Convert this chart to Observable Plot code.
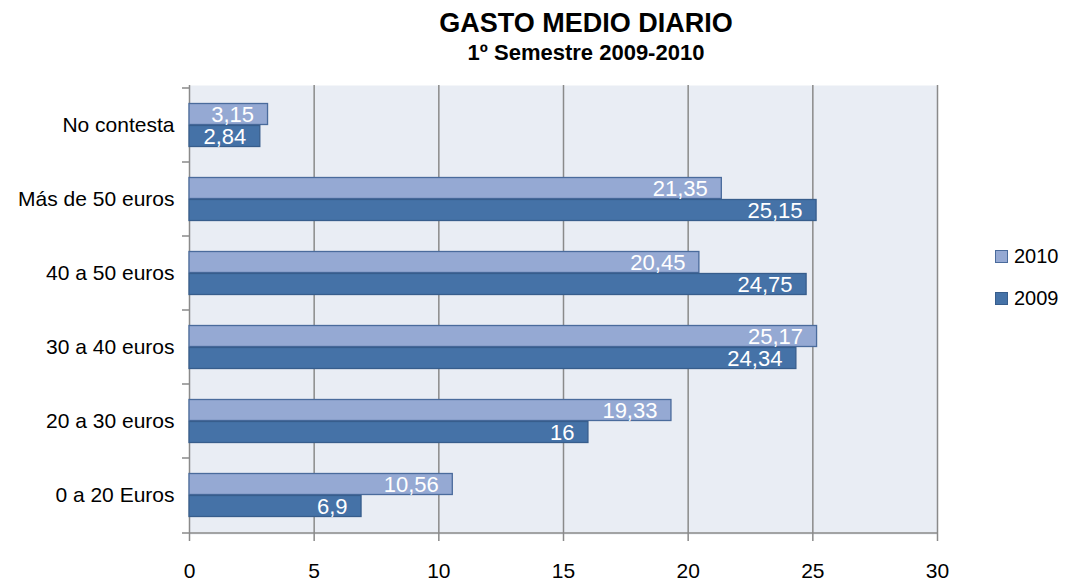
<!DOCTYPE html>
<html>
<head>
<meta charset="utf-8">
<script src="https://cdn.jsdelivr.net/npm/d3@7"></script>
<script src="https://cdn.jsdelivr.net/npm/@observablehq/plot@0.6"></script>
<style>
  html, body { margin: 0; padding: 0; background: #fff; }
  #wrap { position: relative; width: 1066px; height: 585px; font-family: "Liberation Sans", Arial, sans-serif; overflow: hidden; }
  #title { position: absolute; left: 0; width: 1172px; top: 8px; text-align: center; font-weight: bold; font-size: 27px; line-height: 30px; color: #000; }
  #subtitle { position: absolute; left: 0; width: 1172px; top: 41px; text-align: center; font-weight: bold; font-size: 22px; line-height: 24px; color: #000; }
  #chart { position: absolute; left: 0; top: 70px; }
  #legend { position: absolute; left: 995px; top: 235px; font-size: 20px; color: #000; }
  .item { display: flex; align-items: center; height: 42px; }
  .sw { width: 11px; height: 11px; border: 1.5px solid; margin-right: 6px; }
</style>
</head>
<body>
<div id="wrap">
  <div id="title">GASTO MEDIO DIARIO</div>
  <div id="subtitle">1º Semestre 2009-2010</div>
  <div id="chart"></div>
  <div id="legend"></div>
</div>
<script>
const categories = ["No contesta", "Más de 50 euros", "40 a 50 euros", "30 a 40 euros", "20 a 30 euros", "0 a 20 Euros"];
const values2010 = [3.15, 21.35, 20.45, 25.17, 19.33, 10.56];
const values2009 = [2.84, 25.15, 24.75, 24.34, 16, 6.9];
const seriesNames = ["2010", "2009"];
const xTicks = [0, 5, 10, 15, 20, 25, 30];

const colors = {"2010": {fill: "#95a9d3", stroke: "#4a6b9c"}, "2009": {fill: "#4572a7", stroke: "#375d8c"}};
const grid = "#8a8a8a";

const d2010 = categories.map((c, i) => ({cat: c, v: values2010[i]}));
const d2009 = categories.map((c, i) => ({cat: c, v: values2009[i]}));
const fmt = v => String(v).replace(".", ",");
const half = 37.5;

const chart = Plot.plot({
  width: 1066,
  height: 515,
  marginLeft: 189,
  marginRight: 129,
  marginTop: 15,
  marginBottom: 51,
  style: {fontFamily: "Liberation Sans, Arial, sans-serif", fontSize: "21px", color: "#000", background: "transparent"},
  x: {domain: [0, 30], ticks: xTicks, label: null},
  y: {domain: categories, padding: 0, label: null},
  marks: [
    Plot.frame({fill: "#e9edf4", stroke: null}),
    Plot.gridX(xTicks.filter(t => t > 0), {stroke: grid, strokeOpacity: 1, strokeWidth: 1.5}),
    Plot.ruleX([0], {stroke: grid, strokeWidth: 1.5}),
    Plot.ruleY([categories[categories.length - 1]], {dy: half, stroke: grid, strokeWidth: 1.5}),
    Plot.ruleY(categories, {y: d => d, x1: d => 0, x2: d => 0, dy: -half, insetLeft: -7, stroke: grid, strokeWidth: 1.5}),
    Plot.ruleY([categories[categories.length - 1]], {y: d => d, x1: d => 0, x2: d => 0, dy: half, insetLeft: -7, stroke: grid, strokeWidth: 1.5}),
    Plot.barX(d2010, {y: "cat", x: "v", insetTop: 15.5, insetBottom: 37.5, fill: colors["2010"].fill, stroke: colors["2010"].stroke, strokeWidth: 1.3}),
    Plot.barX(d2009, {y: "cat", x: "v", insetTop: 37.5, insetBottom: 15.5, fill: colors["2009"].fill, stroke: colors["2009"].stroke, strokeWidth: 1.3}),
    Plot.text(d2010, {y: "cat", x: "v", text: d => fmt(d.v), dy: -11, dx: -14, textAnchor: "end", fill: "#fff", fontSize: 22}),
    Plot.text(d2009, {y: "cat", x: "v", text: d => fmt(d.v), dy: 11, dx: -14, textAnchor: "end", fill: "#fff", fontSize: 22}),
    Plot.axisX({ticks: xTicks, tickSize: 7, tickPadding: 22, stroke: grid, strokeWidth: 1.5, fontSize: 21, label: null}),
    Plot.axisY({tickSize: 0, tickPadding: 15, fontSize: 21, label: null})
  ]
});
document.getElementById("chart").appendChild(chart);

const legend = document.getElementById("legend");
for (const s of seriesNames) {
  const item = document.createElement("div");
  item.className = "item";
  const sw = document.createElement("div");
  sw.className = "sw";
  sw.style.background = colors[s].fill;
  sw.style.borderColor = colors[s].stroke;
  const lab = document.createElement("span");
  lab.textContent = s;
  item.appendChild(sw);
  item.appendChild(lab);
  legend.appendChild(item);
}
</script>
</body>
</html>
